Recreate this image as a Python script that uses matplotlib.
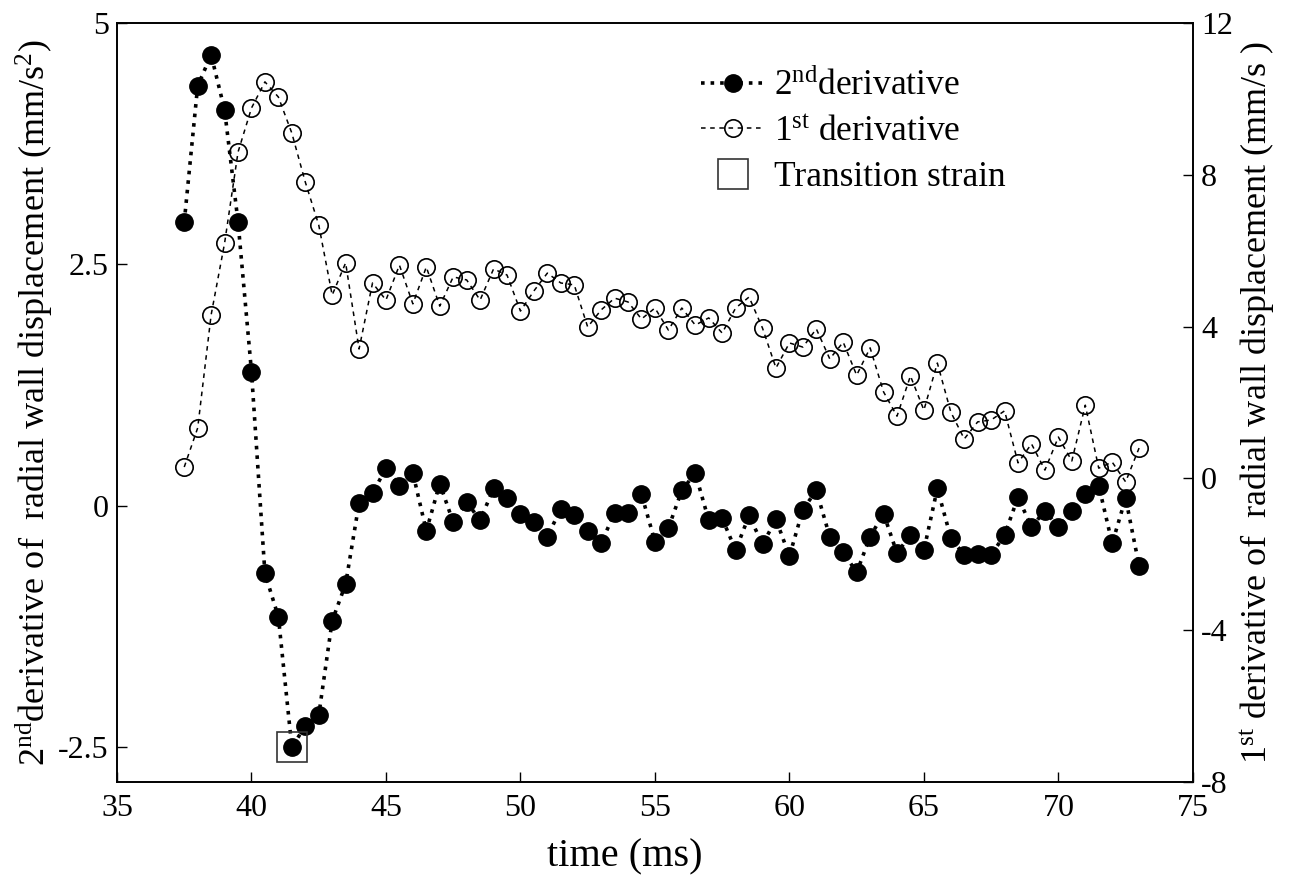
import matplotlib
matplotlib.use("Agg")
import matplotlib.pyplot as plt
import numpy as np

plt.rcParams['font.family'] = ['Liberation Serif', 'DejaVu Serif']
plt.rcParams['mathtext.fontset'] = 'custom'
plt.rcParams['mathtext.rm'] = 'Liberation Serif'
plt.rcParams['mathtext.it'] = 'Liberation Serif:italic'
plt.rcParams['axes.unicode_minus'] = False

time_ms = [37.5 + 0.5 * i for i in range(72)]

second_deriv = [2.94, 4.35, 4.67, 4.10, 2.94, 1.39, -0.70, -1.15, -2.50, -2.28,
                -2.17, -1.19, -0.81, 0.03, 0.13, 0.39, 0.21, 0.34, -0.26, 0.23,
                -0.17, 0.04, -0.15, 0.18, 0.08, -0.08, -0.17, -0.32, -0.03, -0.09,
                -0.26, -0.39, -0.07, -0.07, 0.12, -0.37, -0.23, 0.16, 0.34, -0.15,
                -0.13, -0.46, -0.10, -0.40, -0.14, -0.52, -0.04, 0.16, -0.32, -0.48,
                -0.69, -0.32, -0.08, -0.49, -0.30, -0.46, 0.18, -0.33, -0.51, -0.50,
                -0.51, -0.30, 0.09, -0.22, -0.05, -0.22, -0.05, 0.12, 0.21, -0.39,
                0.08, -0.62]

first_deriv = [0.30, 1.33, 4.31, 6.20, 8.60, 9.76, 10.45, 10.05, 9.10, 7.81,
               6.68, 4.83, 5.68, 3.41, 5.15, 4.70, 5.62, 4.60, 5.57, 4.54,
               5.31, 5.23, 4.70, 5.52, 5.36, 4.41, 4.94, 5.41, 5.15, 5.10,
               3.99, 4.44, 4.75, 4.65, 4.20, 4.49, 3.91, 4.49, 4.04, 4.23,
               3.83, 4.49, 4.78, 3.96, 2.91, 3.57, 3.46, 3.94, 3.15, 3.59,
               2.72, 3.44, 2.28, 1.64, 2.70, 1.80, 3.04, 1.75, 1.04, 1.49,
               1.54, 1.78, 0.41, 0.91, 0.22, 1.09, 0.46, 1.93, 0.27, 0.43,
               -0.09, 0.80]

transition_t = [41.5]
transition_v = [-2.5]

x_ticks = [35, 40, 45, 50, 55, 60, 65, 70, 75]
left_ticks = [-2.5, 0, 2.5, 5]
left_tick_labels = ['-2.5', '0', '2.5', '5']
right_ticks = [-8, -4, 0, 4, 8, 12]

fig = plt.figure(figsize=(12.9, 8.86), dpi=100)
ax = fig.add_axes([0.0907, 0.1174, 0.834, 0.8566])
ax2 = ax.twinx()

l1, = ax.plot(time_ms, second_deriv, linestyle=':', linewidth=2.6, color='black',
              marker='o', markersize=12.5, markerfacecolor='black',
              markeredgecolor='black', label='2$^{\\mathrm{nd}}$derivative', zorder=3)
l2, = ax2.plot(time_ms, first_deriv, linestyle=(0, (3, 3)), linewidth=1.1, color='black',
               marker='o', markersize=12.5, markerfacecolor='none',
               markeredgecolor='black', markeredgewidth=1.2,
               label='1$^{\\mathrm{st}}$ derivative', zorder=3)
l3, = ax.plot(transition_t, transition_v, linestyle='none', marker='s', markersize=22,
              markerfacecolor='none', markeredgecolor='#333333', markeredgewidth=1.2,
              label='Transition strain', zorder=4)

ax.set_xlim(35, 75)
ax.set_ylim(-2.86, 5)
ax2.set_ylim(-8, 12)

ax.set_xticks(x_ticks)
ax.set_yticks(left_ticks)
ax.set_yticklabels(left_tick_labels)
ax2.set_yticks(right_ticks)

for a in (ax, ax2):
    a.tick_params(direction='in', length=7, width=1, labelsize=23)
    for s in a.spines.values():
        s.set_linewidth(1.2)
ax.tick_params(axis='x', pad=9)
ax.tick_params(axis='y', pad=6)
ax2.tick_params(axis='y', pad=6)

ax.set_xlabel('time (ms)', fontsize=29)
ax.xaxis.set_label_coords(0.472, -0.075)
ax.set_ylabel('2$^{\\mathrm{nd}}$derivative of  radial wall displacement (mm/s$^{2}$)',
              fontsize=26, labelpad=2)
ax2.set_ylabel('1$^{\\mathrm{st}}$ derivative of  radial wall displacement (mm/s )',
               fontsize=26, rotation=90, labelpad=4)

leg = ax.legend(handles=[l1, l2, l3], loc='upper left', bbox_to_anchor=(0.53, 0.958),
                frameon=False, fontsize=25.5, handlelength=1.8, handletextpad=0.25,
                labelspacing=0.35, borderaxespad=0)

fig.savefig('out.png', dpi=100)
